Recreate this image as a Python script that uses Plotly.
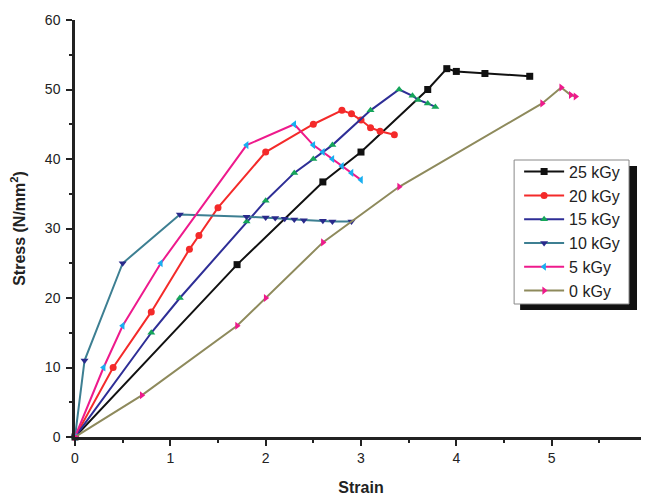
import plotly.graph_objects as go

names = ["25 kGy", "20 kGy", "15 kGy", "10 kGy", "5 kGy", "0 kGy"]

x25 = [0, 1.7, 2.6, 3.0, 3.7, 3.9, 4.0, 4.3, 4.77]
y25 = [0, 24.8, 36.7, 41.0, 50.0, 53.0, 52.6, 52.3, 51.9]

x20 = [0, 0.4, 0.8, 1.2, 1.3, 1.5, 2.0, 2.5, 2.8, 2.9, 3.0, 3.1, 3.2, 3.35]
y20 = [0, 10, 18, 27, 29, 33, 41, 45, 47, 46.5, 45.6, 44.5, 44.0, 43.5]

x15 = [0, 0.8, 1.1, 1.8, 2.0, 2.3, 2.5, 2.7, 3.1, 3.4, 3.54, 3.6, 3.7, 3.78]
y15 = [0, 15, 20, 31, 34, 38, 40, 42, 47, 50, 49.1, 48.5, 48.0, 47.5]

x10 = [0, 0.1, 0.5, 1.1, 1.8, 2.0, 2.1, 2.2, 2.3, 2.4, 2.6, 2.7, 2.9]
y10 = [0, 11, 25, 32, 31.7, 31.6, 31.5, 31.4, 31.3, 31.2, 31.1, 31.0, 31.0]

x5 = [0, 0.3, 0.5, 0.9, 1.8, 2.3, 2.5, 2.6, 2.7, 2.8, 2.9, 3.0]
y5 = [0, 10, 16, 25, 42, 45, 42, 41, 40, 39, 38, 37]

x0 = [0, 0.7, 1.7, 2.0, 2.6, 3.4, 4.9, 5.1, 5.2, 5.25]
y0 = [0, 6, 16, 20, 28, 36, 48, 50.3, 49.2, 49.0]

xs = [x25, x20, x15, x10, x5, x0]
ys = [y25, y20, y15, y10, y5, y0]
line_colors = ["#111111", "#f42a2a", "#2e2e96", "#3d7f92", "#ee1a8c", "#8e8a5c"]
marker_colors = ["#111111", "#f42a2a", "#15a55a", "#2a2a8c", "#18aef0", "#ee1a8c"]
symbols = ["square", "circle", "triangle-up", "triangle-down", "triangle-left", "triangle-right"]

fig = go.Figure()
for n, x, y, lc, mc, s in zip(names, xs, ys, line_colors, marker_colors, symbols):
    fig.add_trace(go.Scatter(
        x=x, y=y, name=n, mode="lines+markers",
        line=dict(color=lc, width=2),
        marker=dict(color=mc, symbol=s, size=7, line=dict(width=0)),
        cliponaxis=False,
    ))

# page has an 8px body margin; figure sized to fit the window
OFF = 8
W, H = 641, 488
L, R, T, B = 66.5, 2, 12, 59
pw = W - L - R
ph = H - T - B

def px(xs_):
    return (xs_ - OFF - L) / pw

def py(ys_):
    return (H - B - (ys_ - OFF)) / ph

# legend shadow and box (screen pixel coords)
fig.add_shape(type="rect", xref="paper", yref="paper",
              x0=px(520), x1=px(637), y0=py(310), y1=py(166),
              fillcolor="#111111", line=dict(width=0), layer="above")
fig.add_shape(type="rect", xref="paper", yref="paper",
              x0=px(514), x1=px(629), y0=py(304), y1=py(160),
              fillcolor="white", line=dict(color="#888888", width=1), layer="above")

fig.update_layout(
    width=W, height=H,
    margin=dict(l=L, r=R, t=T, b=B, pad=0, autoexpand=False),
    paper_bgcolor="white", plot_bgcolor="white",
    font=dict(family="Liberation Sans, Arial, sans-serif", color="#222222", size=14),
    showlegend=True,
    legend=dict(
        x=px(519), y=py(154.7), xanchor="left", yanchor="top",
        bgcolor="rgba(0,0,0,0)", borderwidth=0,
        font=dict(size=16, color="#222222"),
        tracegroupgap=0, itemwidth=40,
    ),
    xaxis=dict(
        range=[0, 6], dtick=1, tick0=0, automargin=False,
        showgrid=False, zeroline=False,
        showline=True, linecolor="#222222", linewidth=2.5,
        ticks="outside", ticklen=6, tickwidth=2, tickcolor="#222222",
        ticklabeloverflow="allow",
        minor=dict(dtick=0.5, ticks="outside", ticklen=3, tickwidth=2, tickcolor="#222222", showgrid=False),
        title=dict(text="<b>Strain</b>", font=dict(size=16), standoff=19),
        tickfont=dict(size=14),
    ),
    yaxis=dict(
        range=[0, 60], dtick=10, tick0=0, automargin=False,
        showgrid=False, zeroline=False,
        showline=True, linecolor="#222222", linewidth=2.5,
        ticks="outside", ticklen=6, tickwidth=2, tickcolor="#222222",
        ticklabelstandoff=3,
        minor=dict(dtick=5, ticks="outside", ticklen=3, tickwidth=2, tickcolor="#222222", showgrid=False),
        title=dict(text="<b>Stress (N/mm<sup>2</sup>)</b>", font=dict(size=16), standoff=22),
        tickfont=dict(size=14),
    ),
)

fig.write_html("out.html")
